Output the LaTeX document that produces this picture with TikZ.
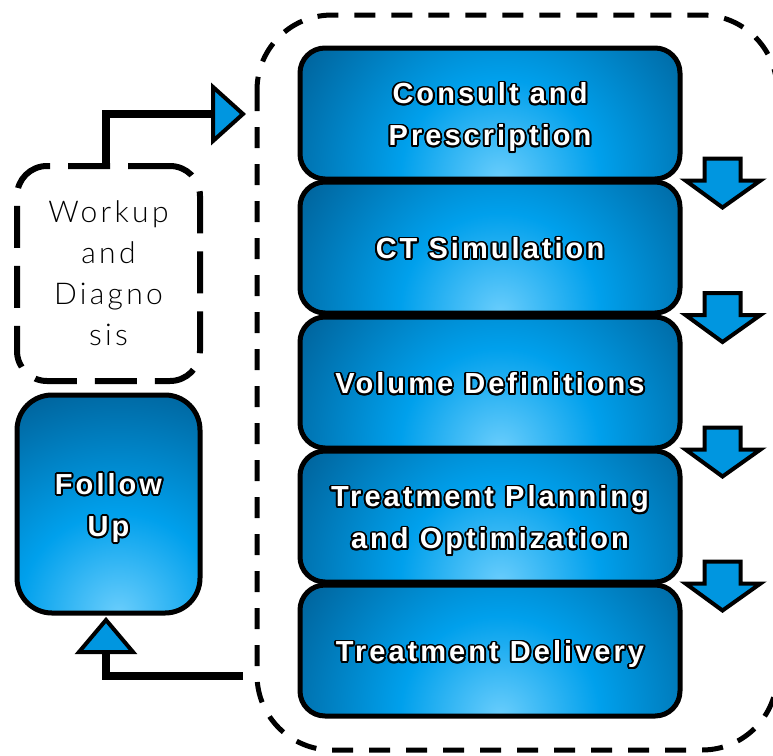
\documentclass[tikz,border=0pt]{standalone}
\usepackage{fontspec}
\usetikzlibrary{calc}
\newfontfamily\boxfont[LetterSpace=10.5]{Liberation Sans}
\newfontfamily\wfont[LetterSpace=11]{Lato Light}
\definecolor{bxlight}{RGB}{105,205,252}
\definecolor{bxmid}{RGB}{0,160,236}
\definecolor{bxdark}{RGB}{0,92,146}
\definecolor{arrowblue}{RGB}{0,150,224}
\pgfdeclareradialshading{boxshade}{\pgfpoint{0bp}{0bp}}{color(0bp)=(bxlight); color(10bp)=(bxmid); color(25bp)=(bxdark); color(50bp)=(bxdark)}
\newcommand\olx[3]{\rlap{\raisebox{#2}{\hspace*{#1}{\color{black}#3}}}}
\newcommand\otext[1]{\leavevmode
\olx{1.9pt}{0pt}{#1}\olx{1.76pt}{0.73pt}{#1}\olx{1.34pt}{1.34pt}{#1}\olx{0.73pt}{1.76pt}{#1}%
\olx{0pt}{1.9pt}{#1}\olx{-0.73pt}{1.76pt}{#1}\olx{-1.34pt}{1.34pt}{#1}\olx{-1.76pt}{0.73pt}{#1}%
\olx{-1.9pt}{0pt}{#1}\olx{-1.76pt}{-0.73pt}{#1}\olx{-1.34pt}{-1.34pt}{#1}\olx{-0.73pt}{-1.76pt}{#1}%
\olx{0pt}{-1.9pt}{#1}\olx{0.73pt}{-1.76pt}{#1}\olx{1.34pt}{-1.34pt}{#1}\olx{1.76pt}{-0.73pt}{#1}%
#1}
\tikzset{
  bluebox/.style={draw=black, line width=5pt, rounded corners=25pt,
    minimum width=380pt, minimum height=131pt, inner sep=0pt,
    text=white, align=center, text depth=0pt,
    font=\boxfont\bfseries\fontsize{29}{42}\selectfont,
    path picture={\shade[shading=boxshade]
      ($(path picture bounding box.south)+(-240pt,-250pt)$) rectangle
      ($(path picture bounding box.south)+(260pt,250pt)$);}},
  workbox/.style={draw=black, dash pattern=on 42pt off 18pt, line width=6pt,
    rounded corners=30pt, minimum width=183pt, minimum height=215pt,
    inner sep=0pt, align=center, text=black, font=\wfont\fontsize{30}{41}\selectfont},
  outerbox/.style={draw=black, dash pattern=on 21pt off 16pt, line width=5pt,
    rounded corners=75pt},
  conn/.style={draw=black, line width=8pt, line join=miter},
  tri/.style={draw=black, fill=arrowblue, line width=4pt, line join=miter},
  blockarrow/.style={draw=black, fill=arrowblue, line width=4pt, line join=miter}
}
\begin{document}
\begin{tikzpicture}[x=1pt,y=-1pt]
\useasboundingbox (0,0) rectangle (773,755);
% outer dashed container
\coordinate (outerNW) at (257,15);
\coordinate (outerSE) at (777,750);
\draw[outerbox] (outerNW) rectangle (outerSE);
% process boxes
\node[bluebox] (b1) at (490,113.5) {\otext{Consult and}\\\otext{Prescription}};
\node[bluebox] (b2) at (490,247.5) {\otext{CT Simulation}};
\node[bluebox] (b3) at (490,382.5) {\otext{Volume Definitions}};
\node[bluebox] (b4) at (490,516.5) {\otext{Treatment Planning}\\\otext{and Optimization}};
\node[bluebox] (b5) at (490,650.5) {\otext{Treatment Delivery}};
% left boxes
\node[workbox] (wk) at (108.5,273.5) {Workup\\and\\Diagno\\sis};
\node[bluebox, minimum width=183pt, minimum height=218pt, rounded corners=35pt] (fu) at (108.5,504) {\otext{Follow}\\\otext{Up}};
% down arrows between process boxes
\coordinate (a1) at ($(b1.south east)!0.5!(b2.north east)+(40,0)$);
\coordinate (a2) at ($(b2.south east)!0.5!(b3.north east)+(40,0)$);
\coordinate (a3) at ($(b3.south east)!0.5!(b4.north east)+(40,0)$);
\coordinate (a4) at ($(b4.south east)!0.5!(b5.north east)+(40,0)$);
\foreach \a in {a1,a2,a3,a4}{
  \draw[blockarrow] (\a) ++(-18,-22) -- ++(36,0) -- ++(0,22) -- ++(20,0)
    -- ++(-38,27) -- ++(-37,-27) -- ++(19,0) -- cycle;
}
% workup -> process
\coordinate (t1) at (213,114);
\draw[conn] ([xshift=-2.5pt]wk.north) |- (t1);
\draw[tri] ($(t1)+(0,-27)$) -- ($(t1)+(30,0)$) -- ($(t1)+(0,27)$) -- cycle;
% process -> follow up
\coordinate (c2) at (243,676);
\coordinate (t2) at (106,652);
\draw[conn] (c2) -| (t2);
\draw[tri] ($(t2)+(-27,0)$) -- ($(t2)+(0,-32)$) -- ($(t2)+(27,0)$) -- cycle;
\end{tikzpicture}
\end{document}
